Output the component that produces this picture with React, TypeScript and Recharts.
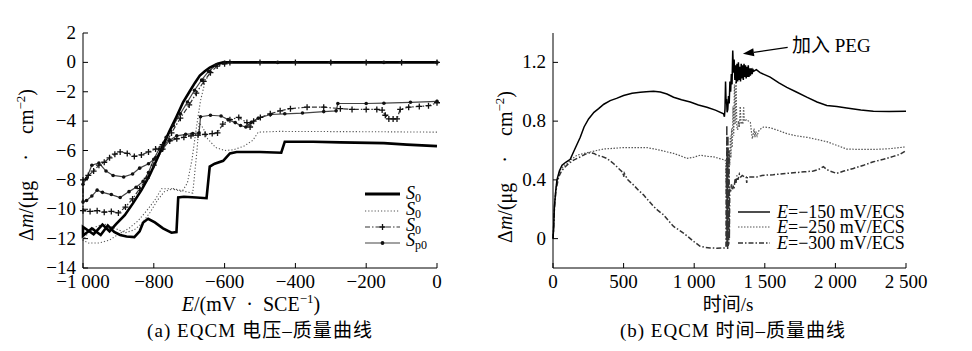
import React from "react";
import { LineChart, Line, XAxis, YAxis, ReferenceLine } from "recharts";

const SERIF = '"Liberation Serif", "Times New Roman", "Noto Sans CJK SC", serif';

// (a) EQCM potential-mass loops: [E (mV), Δm]
const s0SolidLoop: [number, number][] = [
  [0, 0], [-300, 0], [-604, 0], [-620, -0.1], [-642, -0.35], [-656, -0.6], [-670, -0.9],
  [-684, -1.4], [-698, -1.95], [-717, -2.7], [-736, -3.7], [-755, -4.65], [-774, -5.65],
  [-793, -6.7], [-812, -7.7], [-835, -8.7], [-859, -9.6], [-882, -10.4], [-906, -11.0],
  [-925, -11.5], [-945, -11.05], [-970, -11.7], [-1000, -11.2],
  [-1000, -11.8], [-975, -11.3], [-950, -11.75], [-930, -11.1], [-912, -11.55],
  [-895, -11.75], [-877, -11.85], [-855, -11.9], [-840, -11.5], [-830, -10.9],
  [-816, -10.65], [-797, -10.9], [-774, -11.3], [-750, -11.6], [-736, -11.55], [-731, -9.2],
  [-715, -9.15], [-680, -9.2], [-651, -9.25], [-642, -7.1], [-628, -6.9], [-604, -6.7],
  [-585, -6.2], [-566, -6.1], [-500, -6.1], [-440, -6.15], [-430, -5.4], [-350, -5.4],
  [-273, -5.45], [-150, -5.5], [-85, -5.6], [0, -5.7],
];

const s0DottedLoop: [number, number][] = [
  [0, 0], [-300, 0], [-600, 0], [-635, -0.4], [-655, -1.3], [-668, -2.6], [-680, -4.5],
  [-692, -6.6], [-705, -8.2], [-720, -8.8], [-750, -8.6], [-778, -8.6], [-795, -9.3],
  [-820, -10.1], [-845, -10.8], [-870, -11.3], [-900, -11.7], [-925, -12.1], [-955, -12.3],
  [-985, -12.3], [-1000, -12.1], [-985, -11.6], [-965, -11.2], [-940, -11.0], [-910, -11.3],
  [-880, -11.6], [-855, -11.4], [-835, -11.0], [-810, -10.2], [-790, -9.4], [-770, -8.8],
  [-745, -8.6], [-710, -8.8], [-690, -8.9], [-678, -6.0], [-672, -4.1], [-660, -4.5],
  [-648, -5.2], [-625, -5.8], [-600, -6.0], [-575, -5.95], [-545, -5.7], [-520, -5.3],
  [-505, -4.75], [-450, -4.7], [-200, -4.72], [0, -4.75],
];

const s0PlusLoop: [number, number][] = [
  [0, 0], [-100, 0], [-200, 0], [-300, 0], [-400, 0], [-500, 0], [-585, 0], [-600, -0.1],
  [-621, -0.25], [-640, -0.7], [-659, -1.3], [-680, -2.1], [-700, -2.9], [-725, -3.8],
  [-750, -4.8], [-775, -5.9], [-800, -7.0], [-820, -7.9], [-840, -8.6], [-860, -9.3],
  [-880, -9.85], [-900, -10.25], [-920, -10.15], [-940, -10.2], [-960, -10.1], [-980, -10.15],
  [-1000, -10.1], [-1000, -8.0], [-985, -7.7], [-970, -7.4], [-955, -7.0], [-940, -6.8],
  [-925, -6.5], [-910, -6.25], [-895, -6.1], [-875, -6.2], [-855, -6.4], [-835, -6.3],
  [-815, -6.1], [-795, -5.9], [-775, -5.6], [-755, -5.35], [-735, -5.2], [-715, -5.1],
  [-695, -5.0], [-675, -4.95], [-655, -4.9], [-635, -4.85], [-620, -4.8], [-605, -4.2],
  [-585, -3.9], [-560, -3.75], [-537, -4.1], [-528, -4.4], [-518, -4.0], [-499, -3.75],
  [-471, -3.5], [-443, -3.3], [-414, -3.15], [-367, -3.05], [-320, -3.05], [-273, -3.15],
  [-240, -3.2], [-200, -3.2], [-170, -3.2], [-155, -3.25], [-146, -3.6], [-136, -3.85],
  [-124, -3.85], [-113, -3.85], [-104, -3.2], [-80, -3.05], [-50, -3.0], [-24, -2.95],
  [0, -2.75],
];

const sp0DotLoop: [number, number][] = [
  [0, 0], [-150, 0], [-300, 0], [-450, 0], [-600, 0], [-625, -0.2], [-645, -0.6],
  [-665, -1.2], [-685, -1.9], [-705, -2.7], [-725, -3.5], [-745, -4.3], [-765, -5.1],
  [-785, -5.9], [-800, -6.6], [-815, -7.5], [-830, -8.1], [-850, -8.5], [-870, -8.8],
  [-895, -9.2], [-920, -9.0], [-945, -8.85], [-960, -8.7], [-975, -9.1], [-990, -9.4],
  [-1000, -9.5], [-1000, -8.3], [-990, -7.9], [-975, -7.0], [-955, -6.85], [-935, -7.4],
  [-915, -7.7], [-885, -7.8], [-860, -7.6], [-840, -7.2], [-815, -6.9], [-795, -6.5],
  [-775, -5.9], [-755, -5.3], [-735, -5.0], [-710, -4.9], [-690, -4.85], [-672, -4.8],
  [-668, -3.7], [-640, -3.6], [-610, -3.65], [-590, -3.9], [-570, -4.1], [-555, -4.3],
  [-540, -4.4], [-525, -4.1], [-505, -3.8], [-470, -3.55], [-430, -3.5], [-380, -3.45],
  [-320, -3.35], [-285, -3.3], [-280, -2.8], [-200, -2.8], [-150, -2.78], [-75, -2.72],
  [0, -2.65],
];

// (b) EQCM time-mass curves: [t (s), Δm]
const e150: [number, number][] = [
  [0, 0], [4, 0.06], [10, 0.22], [20, 0.33], [28, 0.4], [45, 0.46], [64, 0.5], [90, 0.52],
  [122, 0.54], [150, 0.6], [193, 0.69], [220, 0.76], [252, 0.815], [290, 0.86], [323, 0.885],
  [360, 0.915], [405, 0.94], [450, 0.955], [500, 0.974], [560, 0.99], [618, 0.997],
  [660, 1.0], [712, 1.003], [760, 0.998], [807, 0.985], [854, 0.963], [910, 0.945],
  [972, 0.93], [1030, 0.91], [1090, 0.895], [1150, 0.875], [1208, 0.85], [1214, 0.83],
  [1218, 0.88], [1222, 1.07], [1226, 0.92], [1229, 0.95], [1233, 0.86], [1238, 0.88],
  [1243, 0.97], [1248, 0.92], [1253, 1.07], [1258, 1.0], [1263, 1.12], [1268, 1.05],
  [1273, 1.28], [1278, 1.13], [1283, 1.22], [1288, 1.08], [1293, 1.18], [1298, 1.06],
  [1303, 1.19], [1308, 1.07], [1313, 1.2], [1318, 1.08], [1323, 1.17], [1328, 1.07],
  [1333, 1.19], [1338, 1.09], [1343, 1.18], [1348, 1.08], [1353, 1.19], [1358, 1.1],
  [1363, 1.18], [1368, 1.09], [1373, 1.17], [1378, 1.1], [1383, 1.18], [1388, 1.1],
  [1393, 1.16], [1398, 1.11], [1404, 1.16], [1410, 1.12], [1416, 1.15], [1422, 1.14],
  [1440, 1.15], [1467, 1.13], [1538, 1.1], [1600, 1.06], [1656, 1.03], [1720, 1.0],
  [1797, 0.963], [1870, 0.93], [1939, 0.907], [2010, 0.9], [2080, 0.89], [2180, 0.875],
  [2269, 0.868], [2380, 0.866], [2500, 0.868],
];

const e250: [number, number][] = [
  [0, 0], [4, 0.06], [10, 0.22], [20, 0.34], [30, 0.4], [52, 0.467], [80, 0.5], [99, 0.51],
  [130, 0.54], [170, 0.568], [220, 0.58], [264, 0.59], [310, 0.6], [358, 0.61], [430, 0.615],
  [500, 0.62], [580, 0.62], [665, 0.62], [720, 0.61], [759, 0.602], [810, 0.59], [854, 0.58],
  [900, 0.565], [948, 0.546], [1000, 0.555], [1042, 0.568], [1090, 0.56], [1137, 0.557],
  [1180, 0.545], [1219, 0.535], [1224, 0.52], [1228, 0.3], [1232, 0.56], [1236, 0.35],
  [1240, 0.62], [1244, 0.45], [1248, 0.58], [1252, 0.5], [1256, 0.7], [1260, 0.55],
  [1265, 0.75], [1270, 0.62], [1275, 0.9], [1280, 0.7], [1285, 1.05], [1290, 0.78],
  [1296, 1.07], [1302, 0.76], [1308, 0.74], [1314, 0.8], [1320, 0.76], [1326, 0.9],
  [1332, 0.78], [1340, 0.79], [1345, 0.78], [1350, 0.9], [1355, 0.8], [1370, 0.81],
  [1385, 0.8], [1398, 0.79], [1405, 0.73], [1412, 0.68], [1418, 0.71], [1424, 0.75],
  [1430, 0.69], [1436, 0.73], [1445, 0.7], [1460, 0.74], [1475, 0.75], [1491, 0.76],
  [1538, 0.755], [1600, 0.735], [1656, 0.715], [1720, 0.7], [1797, 0.69], [1870, 0.675],
  [1939, 0.66], [2010, 0.635], [2080, 0.61], [2180, 0.607], [2269, 0.607], [2380, 0.612],
  [2500, 0.625],
];

const e300: [number, number][] = [
  [0, 0], [4, 0.06], [10, 0.2], [20, 0.32], [40, 0.42], [60, 0.46], [87, 0.49], [110, 0.51],
  [146, 0.535], [200, 0.56], [240, 0.58], [264, 0.585], [290, 0.58], [311, 0.568],
  [345, 0.56], [382, 0.546], [430, 0.51], [476, 0.467], [495, 0.45], [500, 0.42],
  [505, 0.445], [530, 0.4], [570, 0.365], [605, 0.33], [641, 0.298], [675, 0.26],
  [712, 0.219], [745, 0.19], [783, 0.162], [820, 0.12], [854, 0.083], [890, 0.06],
  [924, 0.038], [960, 0.01], [995, -0.018], [1042, -0.052], [1080, -0.06], [1113, -0.063],
  [1160, -0.065], [1219, -0.063], [1225, -0.06], [1227, 0.5], [1229, -0.05], [1231, 0.77],
  [1233, -0.06], [1235, 0.6], [1237, -0.07], [1239, 0.7], [1241, -0.05], [1243, 0.45],
  [1245, -0.04], [1247, 0.6], [1249, 0.0], [1252, 0.34],
  [1258, 0.32], [1264, 0.37], [1270, 0.33], [1276, 0.36], [1282, 0.34], [1290, 0.41],
  [1296, 0.38], [1302, 0.43], [1310, 0.4], [1320, 0.44], [1330, 0.42], [1340, 0.43],
  [1355, 0.42], [1368, 0.42], [1372, 0.38], [1376, 0.42], [1400, 0.42], [1443, 0.42],
  [1480, 0.43], [1514, 0.433], [1560, 0.435], [1608, 0.44], [1660, 0.445], [1726, 0.45],
  [1780, 0.455], [1844, 0.46], [1880, 0.47], [1915, 0.49], [1940, 0.47], [1962, 0.46],
  [2009, 0.444], [2060, 0.46], [2127, 0.478], [2200, 0.5], [2269, 0.523], [2340, 0.54],
  [2410, 0.56], [2460, 0.575], [2500, 0.6],
];

const potentialTicks = [-1000, -800, -600, -400, -200, 0];
const massTicksA = [-14, -12, -10, -8, -6, -4, -2, 0, 2];
const timeTicks = [0, 500, 1000, 1500, 2000, 2500];
const massTicksB = [0, 0.4, 0.8, 1.2];

const legendA = ["0", "0", "0", "p0"];
const legendB = ["−150", "−250", "−300"];

const toPts = (arr: [number, number][]) => arr.map(([x, y]) => ({ x, y }));

// 1 000 style grouping and a real minus sign
function fmt(v: number) {
  const a = Math.abs(v);
  const body = a >= 1000 ? `${Math.floor(a / 1000)} ${String(a % 1000).padStart(3, "0")}` : String(a);
  return (v < 0 ? "−" : "") + body;
}

// ticks point inward, labels outside
function YTick(props: any) {
  const { x, y, payload } = props;
  return (
    <g>
      <line x1={x} y1={y} x2={x + 5} y2={y} stroke="#000" strokeWidth={1} />
      <text x={x - 7} y={y + 6} textAnchor="end" fontSize={19} fontFamily={SERIF} fill="#000">
        {fmt(payload.value)}
      </text>
    </g>
  );
}

function XTick(props: any) {
  const { x, y, payload } = props;
  return (
    <g>
      <line x1={x} y1={y} x2={x} y2={y - 5} stroke="#000" strokeWidth={1} />
      <text x={x} y={y + 20} textAnchor="middle" fontSize={19} fontFamily={SERIF} fill="#000">
        {fmt(payload.value)}
      </text>
    </g>
  );
}

const plusDot = (p: any) => {
  const { cx, cy, index } = p;
  if (cx == null || cy == null) return <g key={index} />;
  return (
    <path
      key={index}
      d={`M${cx - 3} ${cy}H${cx + 3}M${cx} ${cy - 3}V${cy + 3}`}
      stroke="#111"
      strokeWidth={1.3}
    />
  );
};

const roundDot = (p: any) => {
  const { cx, cy, index } = p;
  if (cx == null || cy == null) return <g key={index} />;
  return <circle key={index} cx={cx} cy={cy} r={1.8} fill="#111" />;
};

const arrowShape = (p: any) => {
  const { x1, y1, x2, y2 } = p;
  const ang = Math.atan2(y2 - y1, x2 - x1);
  const L = 11;
  const W = 4;
  const bx = x2 - L * Math.cos(ang);
  const by = y2 - L * Math.sin(ang);
  const nx = -Math.sin(ang) * W;
  const ny = Math.cos(ang) * W;
  return (
    <g>
      <line x1={x1} y1={y1} x2={bx} y2={by} stroke="#000" strokeWidth={1.3} />
      <polygon points={`${x2},${y2} ${bx + nx},${by + ny} ${bx - nx},${by - ny}`} fill="#000" />
    </g>
  );
};

const MARGIN = { top: 33, right: 13, bottom: 2, left: 23 };

function VoltageChart() {
  return (
    <LineChart width={450} height={300} margin={MARGIN}>
      <XAxis
        type="number"
        dataKey="x"
        domain={[-1000, 0]}
        ticks={potentialTicks}
        interval={0}
        height={30}
        tickSize={0}
        tickMargin={0}
        tickLine={false}
        axisLine={{ stroke: "#000", strokeWidth: 1 }}
        tick={(p: any) => <XTick {...p} />}
      />
      <YAxis
        type="number"
        domain={[-14, 2]}
        ticks={massTicksA}
        interval={0}
        width={60}
        tickSize={0}
        tickMargin={0}
        tickLine={false}
        axisLine={{ stroke: "#000", strokeWidth: 1 }}
        tick={(p: any) => <YTick {...p} />}
      />
      <Line data={toPts(s0DottedLoop)} dataKey="y" stroke="#555" strokeWidth={1.1} strokeDasharray="1.2 2" dot={false} isAnimationActive={false} />
      <Line data={toPts(sp0DotLoop)} dataKey="y" stroke="#444" strokeWidth={1.2} dot={roundDot} isAnimationActive={false} />
      <Line data={toPts(s0PlusLoop)} dataKey="y" stroke="#333" strokeWidth={1.2} strokeDasharray="5 2 1.5 2" dot={plusDot} isAnimationActive={false} />
      <Line data={toPts(s0SolidLoop)} dataKey="y" stroke="#000" strokeWidth={2.6} dot={false} isAnimationActive={false} />
    </LineChart>
  );
}

function TimeChart() {
  return (
    <LineChart width={480} height={300} margin={{ ...MARGIN, right: 44 }}>
      <XAxis
        type="number"
        dataKey="x"
        domain={[0, 2500]}
        ticks={timeTicks}
        interval={0}
        height={30}
        tickSize={0}
        tickMargin={0}
        tickLine={false}
        axisLine={{ stroke: "#000", strokeWidth: 1 }}
        tick={(p: any) => <XTick {...p} />}
      />
      <YAxis
        type="number"
        domain={[-0.2, 1.4]}
        ticks={massTicksB}
        interval={0}
        width={60}
        tickSize={0}
        tickMargin={0}
        tickLine={false}
        axisLine={{ stroke: "#000", strokeWidth: 1 }}
        tick={(p: any) => <YTick {...p} />}
      />
      <Line data={toPts(e250)} dataKey="y" stroke="#555" strokeWidth={1.2} strokeDasharray="1.5 1.5" dot={false} isAnimationActive={false} />
      <Line data={toPts(e300)} dataKey="y" stroke="#333" strokeWidth={1.5} strokeDasharray="5 2 1.5 2" dot={false} isAnimationActive={false} />
      <Line data={toPts(e150)} dataKey="y" stroke="#000" strokeWidth={1.5} dot={false} isAnimationActive={false} />
      <ReferenceLine
        segment={[{ x: 1662, y: 1.302 }, { x: 1345, y: 1.258 }]}
        stroke="#000"
        shape={arrowShape}
        ifOverflow="visible"
      />
    </LineChart>
  );
}

function Overlay() {
  const t = { fontFamily: SERIF, fill: "#000" } as const;
  const gap = "\u2003·\u2003";
  return (
    <svg width={972} height={351} style={{ position: "absolute", left: 0, top: 0, pointerEvents: "none" }}>
      {/* axis titles */}
      <text {...t} fontSize={20} transform="rotate(-90 33 165)" x={33} y={165} textAnchor="middle">
        Δ<tspan fontStyle="italic">m</tspan>/(μg{gap}cm<tspan dy={-8} fontSize={13}>−2</tspan><tspan dy={8}>)</tspan>
      </text>
      <text {...t} fontSize={20} transform="rotate(-90 512 167)" x={512} y={167} textAnchor="middle">
        Δ<tspan fontStyle="italic">m</tspan>/(μg{gap}cm<tspan dy={-8} fontSize={13}>−2</tspan><tspan dy={8}>)</tspan>
      </text>
      <text {...t} fontSize={20} x={251} y={311} textAnchor="middle">
        <tspan fontStyle="italic">E</tspan>/(mV{"\u2002·\u2002"}SCE<tspan dy={-8} fontSize={13}>−1</tspan><tspan dy={8}>)</tspan>
      </text>
      <text {...t} fontSize={19} x={728} y={311} textAnchor="middle">时间/s</text>

      {/* captions */}
      <text {...t} fontSize={19} x={147} y={337} textLength={225} lengthAdjust="spacing">(a) EQCM 电压–质量曲线</text>
      <text {...t} fontSize={19} x={620} y={337} textLength={225} lengthAdjust="spacing">(b) EQCM 时间–质量曲线</text>

      {/* legend (a) */}
      <line x1={365} y1={194} x2={400} y2={194} stroke="#000" strokeWidth={3} />
      <line x1={365} y1={211} x2={400} y2={211} stroke="#555" strokeWidth={1.1} strokeDasharray="1.2 2" />
      <line x1={365} y1={227} x2={400} y2={227} stroke="#333" strokeWidth={1.2} strokeDasharray="5 2 1.5 2" />
      <path d="M379.5 227H385.5M382.5 224V230" stroke="#111" strokeWidth={1.3} />
      <line x1={365} y1={243} x2={400} y2={243} stroke="#444" strokeWidth={1.2} />
      <circle cx={382.5} cy={243} r={1.9} fill="#111" />
      {legendA.map((sub, i) => (
        <text key={i} {...t} fontSize={18} x={406} y={[199, 215, 231, 246][i]}>
          <tspan fontStyle="italic">S</tspan>
          <tspan dy={3} fontSize={12}>{sub}</tspan>
        </text>
      ))}

      {/* legend (b) */}
      <line x1={738} y1={212} x2={770} y2={212} stroke="#000" strokeWidth={1.4} />
      <line x1={738} y1={227} x2={770} y2={227} stroke="#555" strokeWidth={1.2} strokeDasharray="1.5 1.5" />
      <line x1={738} y1={243} x2={770} y2={243} stroke="#333" strokeWidth={1.4} strokeDasharray="5 2 1.5 2" />
      {legendB.map((v, i) => (
        <text key={v} {...t} fontSize={18} x={777} y={[218, 233, 249][i]}>
          <tspan fontStyle="italic">E</tspan>={v} mV/ECS
        </text>
      ))}

      {/* annotation */}
      <text {...t} fontSize={19} x={792} y={52}>加入 PEG</text>
    </svg>
  );
}

export default function App() {
  return (
    <div style={{ position: "absolute", left: 0, top: 0, width: 972, height: 351, background: "#fff", overflow: "hidden" }}>
      <div style={{ position: "absolute", left: 0, top: 0 }}>
        <VoltageChart />
      </div>
      <div style={{ position: "absolute", left: 470, top: 0 }}>
        <TimeChart />
      </div>
      <Overlay />
    </div>
  );
}
